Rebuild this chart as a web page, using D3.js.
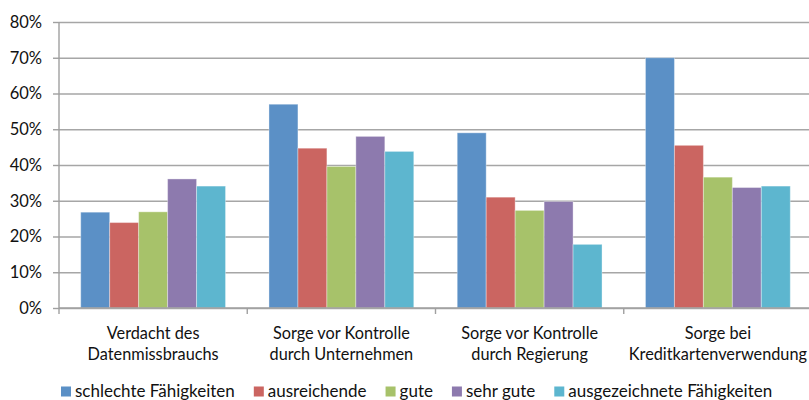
<!DOCTYPE html>
<html>
<head>
<meta charset="utf-8">
<script src="https://cdn.jsdelivr.net/npm/d3@7"></script>
<style>
  body { margin: 0; background: #fff; }
  svg { display: block; font-family: Lato, "Open Sans", sans-serif; }
</style>
</head>
<body>
<div id="chart"></div>
<script>
const categories = [
    ["Verdacht des", "Datenmissbrauchs"],
    ["Sorge vor Kontrolle", "durch Unternehmen"],
    ["Sorge vor Kontrolle", "durch Regierung"],
    ["Sorge bei", "Kreditkartenverwendung"],
];
const seriesNames = ["schlechte Fähigkeiten", "ausreichende", "gute", "sehr gute", "ausgezeichnete Fähigkeiten"];
const seriesColors = ["#5b90c6", "#cb6561", "#a7c26a", "#8d7aae", "#5db6cf"];
// one row per category, one value per series (percent)
const values = [
    [26.8, 23.9, 26.9, 36.1, 34.1],
    [57.0, 44.7, 39.6, 48.0, 43.8],
    [49.0, 31.0, 27.3, 29.8, 17.8],
    [70.0, 45.5, 36.6, 33.7, 34.1],
];
const yTicks = [0, 10, 20, 30, 40, 50, 60, 70, 80];

const outerWidth = 809;
const outerHeight = 400;
const margin = {top: 22, left: 59, bottom: 92};
const plotRight = 812;
const plotBottom = outerHeight - margin.bottom;

const svg = d3.select("#chart")
    .append("svg")
    .attr("width", outerWidth)
    .attr("height", outerHeight);

const x = d3.scaleBand()
    .domain(d3.range(categories.length))
    .range([margin.left, plotRight])
    .padding(0);
const xInner = d3.scaleBand()
    .domain(d3.range(seriesNames.length))
    .range([0, x.bandwidth()])
    .paddingInner(0)
    .paddingOuter(0.75);
const y = d3.scaleLinear()
    .domain([0, 80])
    .range([plotBottom, margin.top]);

// gridlines
svg.append("g")
    .attr("transform", `translate(${margin.left},0)`)
    .call(d3.axisLeft(y).tickValues(yTicks).tickSize(-(plotRight - margin.left)).tickFormat(""))
    .call((g) => g.select(".domain").remove())
    .call((g) => g.selectAll("line").attr("stroke", "#a6a6a6").attr("stroke-width", 1.4));

// bars
const groups = svg.selectAll(".group")
    .data(values)
    .enter()
    .append("g")
    .attr("transform", (d, i) => `translate(${x(i)},0)`);
groups.selectAll("rect")
    .data((d) => d)
    .enter()
    .append("rect")
    .attr("x", (d, i) => xInner(i))
    .attr("y", (d) => y(d))
    .attr("width", xInner.bandwidth())
    .attr("height", (d) => plotBottom - y(d))
    .attr("fill", (d, i) => seriesColors[i])
    .attr("stroke", "#ffffff")
    .attr("stroke-opacity", 0.35)
    .attr("stroke-width", 1);

// y axis
svg.append("g")
    .attr("transform", `translate(${margin.left},0)`)
    .call(d3.axisLeft(y).tickValues(yTicks).tickSize(6).tickPadding(11).tickFormat((d) => `${d}%`))
    .call((g) => g.select(".domain").attr("d", `M0,${margin.top}V${plotBottom + 6}`))
    .call((g) => g.selectAll("path, line").attr("stroke", "#a0a0a0").attr("stroke-width", 1.4))
    .call((g) => g.selectAll("text").attr("fill", "#111").attr("font-size", 16.5).attr("font-family", "Lato"));

// x axis with ticks at category boundaries
const xAxis = svg.append("g");
xAxis.append("line")
    .attr("x1", margin.left)
    .attr("x2", plotRight)
    .attr("y1", plotBottom)
    .attr("y2", plotBottom)
    .attr("stroke", "#a0a0a0")
    .attr("stroke-width", 1.4);
xAxis.selectAll(".xtick")
    .data(d3.range(1, categories.length + 1))
    .enter()
    .append("line")
    .attr("x1", (d) => x.step() * d + margin.left)
    .attr("x2", (d) => x.step() * d + margin.left)
    .attr("y1", plotBottom)
    .attr("y2", plotBottom + 6)
    .attr("stroke", "#a0a0a0")
    .attr("stroke-width", 1.4);

const labels = svg.selectAll(".cat-label")
    .data(categories)
    .enter()
    .append("text")
    .attr("text-anchor", "middle")
    .attr("font-size", 16.3)
    .attr("fill", "#111");
labels.selectAll("tspan")
    .data((d, i) => d.map((line) => ({line, i})))
    .enter()
    .append("tspan")
    .attr("x", (d) => x(d.i) + x.bandwidth() / 2)
    .attr("y", (d, j) => 339 + j * 21)
    .text((d) => d.line);

// legend
const legend = svg.append("g").attr("transform", "translate(61, 391)");
let cursor = 0;
seriesNames.forEach((name, i) => {
    const item = legend.append("g").attr("transform", `translate(${cursor},0)`);
    item.append("rect")
        .attr("x", 0)
        .attr("y", -4.5)
        .attr("width", 10)
        .attr("height", 10)
        .attr("fill", seriesColors[i]);
    const label = item.append("text")
        .attr("x", 14)
        .attr("y", 5.5)
        .attr("font-size", 17)
        .attr("fill", "#111")
        .text(name);
    cursor += 14 + label.node().getComputedTextLength() + 19;
});
</script>
</body>
</html>
